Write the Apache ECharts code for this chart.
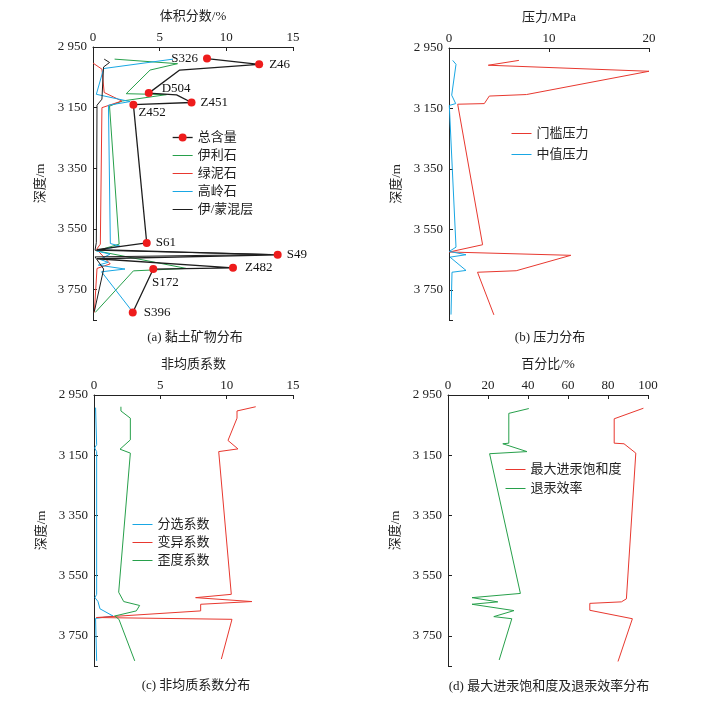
<!DOCTYPE html>
<html>
<head>
<meta charset="utf-8">
<script src="https://cdn.jsdelivr.net/npm/echarts@6/dist/echarts.min.js"></script>
<style>
html,body{margin:0;padding:0;background:#fff;}
#chart{width:716px;height:702px;}
</style>
</head>
<body>
<div id="chart"></div>
<script>
// ---------- data ----------
const depthTicks = [2950, 3150, 3350, 3550, 3750];

// (a) clay minerals, volume fraction %
const totalDepth = [2988, 3007, 3026, 3102, 3108, 3133, 3140, 3596, 3618, 3635, 3648, 3678, 3682, 3825];
const totalValue = [8.55, 12.46, 6.5, 4.18, 6.27, 7.39, 3.03, 4.03, 0.3, 13.85, 0.3, 10.5, 4.52, 2.98];
const totalName  = ['S326', 'Z46', '', 'D504', '', 'Z451', 'Z452', 'S61', '', 'S49', '', 'Z482', 'S172', 'S396'];

const illiteDepth = [2990, 3005, 3026, 3104, 3107, 3128, 3145, 3600, 3622, 3680, 3688, 3825];
const illiteValue = [1.62, 6.34, 4.28, 2.49, 5.52, 2.2, 1.24, 1.96, 0.27, 7.0, 3.03, 0.17];

const chloriteDepth = [3003, 3023, 3100, 3128, 3150, 3600, 3617, 3665, 3680, 3825];
const chloriteValue = [0.0, 0.67, 0.84, 2.16, 0.67, 0.55, 0.27, 1.29, 0.3, 0.1];

const kaoliniteDepth = [2990, 3021, 3106, 3130, 3142, 3598, 3606, 3622, 3633, 3650, 3660, 3669, 3682, 3691, 3825];
const kaoliniteValue = [6.0, 0.8, 0.25, 2.78, 1.16, 1.3, 2.0, 0.27, 1.27, 0.52, 1.14, 0.4, 2.4, 0.64, 3.0];

const mixedDepth = [2990, 3001, 3016, 3122, 3142, 3595, 3620, 3634, 3642, 3682, 3822];
const mixedValue = [0.84, 1.24, 0.79, 0.67, 0.3, 0.25, 0.15, 13.3, 0.15, 0.8, 0.1];

// (b) pressure, MPa
const thresholdDepth = [2991, 3007, 3027, 3104, 3109, 3134, 3136, 3601, 3625, 3636, 3687, 3692, 3833];
const thresholdValue = [6.99, 3.93, 20.0, 7.75, 4.03, 3.53, 0.87, 3.36, 0.03, 12.18, 6.72, 2.85, 4.49];
const medianDepth = [2991, 3004, 3106, 3134, 3140, 3609, 3623, 3634, 3642, 3686, 3692, 3832];
const medianValue = [0.37, 0.7, 0.27, 0.67, 0.03, 0.7, 0.03, 1.7, 0.1, 1.7, 0.3, 0.2];

// (c) heterogeneity coefficients
const sortingDepth = [2992, 3115, 3126, 3138, 3612, 3623, 3636, 3660, 3684, 3692, 3833];
const sortingValue = [0.12, 0.2, 0.05, 0.2, 0.2, 0.08, 0.3, 0.45, 1.43, 0.12, 0.2];
const variationDepth = [2989, 3003, 3027, 3101, 3129, 3138, 3612, 3623, 3636, 3645, 3667, 3689, 3695, 3827];
const variationValue = [12.19, 10.78, 10.78, 10.1, 10.85, 9.4, 10.35, 7.66, 11.9, 8.04, 8.04, 0.18, 10.4, 9.6];
const skewDepth = [2989, 3003, 3027, 3099, 3130, 3143, 3605, 3636, 3649, 3667, 3684, 3695, 3833];
const skewValue = [2.03, 2.03, 2.74, 2.74, 1.96, 2.74, 1.86, 2.24, 3.44, 3.19, 1.56, 1.88, 3.07];

// (d) max mercury saturation & withdrawal efficiency, %
const maxSatDepth = [2994, 3029, 3110, 3112, 3143, 3627, 3637, 3642, 3665, 3693, 3835];
const maxSatValue = [97.7, 83.1, 83.1, 88, 93.9, 89.2, 86.7, 70.9, 70.9, 92.2, 85];
const effDepth = [2995, 3011, 3110, 3112, 3138, 3145, 3609, 3623, 3637, 3645, 3666, 3686, 3693, 3830];
const effValue = [40.4, 30.4, 30.4, 27.4, 39.5, 20.8, 36.2, 12, 24.9, 12, 33, 22.9, 31.9, 25.6];

// ---------- style ----------
const FONT = "'Liberation Serif', 'Noto Sans CJK SC', serif";
const GREEN = '#27a04b', RED = '#e8382f', BLUE = '#19a7e4', BLACK = '#1e1e1e';
const zip = (v, d) => v.map((x, i) => [x, d[i]]);
const fmtDepth = v => String(v).replace(/\B(?=(\d{3})+(?!\d))/g, ' ');

const labelCfg = {
  S326: {position: 'left', distance: 5},
  Z46: {position: 'right', distance: 6},
  D504: {position: 'right', distance: 9, offset: [0, -5]},
  Z451: {position: 'right', distance: 5},
  Z452: {position: 'right', distance: 1, offset: [0, 8]},
  S61: {position: 'right', distance: 5},
  S49: {position: 'right', distance: 5},
  Z482: {position: 'right', distance: 8},
  S172: {position: 'bottom', distance: 3, offset: [12, 0]},
  S396: {position: 'right', distance: 7}
};

const totalData = totalValue.map((v, i) => {
  const n = totalName[i];
  if (!n) return {value: [v, totalDepth[i]], symbol: 'none'};
  return {value: [v, totalDepth[i]], name: n,
    label: Object.assign({show: true, formatter: n, color: '#111', fontFamily: FONT, fontSize: 13}, labelCfg[n])};
});

const grids = [
  {left: 93, top: 47, width: 200, height: 273},
  {left: 449, top: 48, width: 200, height: 272},
  {left: 94, top: 395, width: 199, height: 271},
  {left: 448, top: 395, width: 200, height: 271}
];
const xSpecs = [
  {name: '体积分数/%', max: 15, interval: 5},
  {name: '压力/MPa', max: 20, interval: 10},
  {name: '非均质系数', max: 15, interval: 5},
  {name: '百分比/%', max: 100, interval: 20}
];

const axisLine = {show: true, lineStyle: {color: '#222', width: 1}};
const xAxis = xSpecs.map((s, i) => ({
  type: 'value', gridIndex: i, position: 'top', min: 0, max: s.max, interval: s.interval,
  name: s.name, nameLocation: 'middle', nameGap: 24,
  nameTextStyle: {fontFamily: FONT, fontSize: 13, color: '#222'},
  axisLine: axisLine, axisTick: {show: true, inside: true, length: 4, lineStyle: {color: '#222'}},
  axisLabel: {fontFamily: FONT, fontSize: 13, color: '#222', margin: 3},
  splitLine: {show: false}
}));
const yAxis = grids.map((g, i) => ({
  type: 'value', gridIndex: i, inverse: true, min: 2950, max: 3850,
  name: '深度/m', nameLocation: 'middle', nameGap: 46,
  nameTextStyle: {fontFamily: FONT, fontSize: 13, color: '#222'},
  axisLine: axisLine,
  axisTick: {show: true, inside: true, length: 4, lineStyle: {color: '#222'}, customValues: depthTicks.concat([3850])},
  axisLabel: {fontFamily: FONT, fontSize: 13, color: '#222', margin: 6, customValues: depthTicks, formatter: fmtDepth},
  splitLine: {show: false}
}));

function line(name, data, color, idx, width) {
  return {name, type: 'line', xAxisIndex: idx, yAxisIndex: idx, data, symbol: 'none',
    lineStyle: {color, width: width || 1}, itemStyle: {color}, z: 2};
}

const series = [
  line('伊利石', zip(illiteValue, illiteDepth), GREEN, 0),
  line('绿泥石', zip(chloriteValue, chloriteDepth), RED, 0),
  line('高岭石', zip(kaoliniteValue, kaoliniteDepth), BLUE, 0),
  line('伊/蒙混层', zip(mixedValue, mixedDepth), BLACK, 0),
  {name: '总含量', type: 'line', xAxisIndex: 0, yAxisIndex: 0, data: totalData,
   symbol: 'circle', symbolSize: 8, lineStyle: {color: BLACK, width: 1.3},
   itemStyle: {color: '#ee1c1c'}, z: 5},
  line('门槛压力', zip(thresholdValue, thresholdDepth), RED, 1),
  line('中值压力', zip(medianValue, medianDepth), BLUE, 1),
  line('分选系数', zip(sortingValue, sortingDepth), BLUE, 2),
  line('变异系数', zip(variationValue, variationDepth), RED, 2),
  line('歪度系数', zip(skewValue, skewDepth), GREEN, 2),
  line('最大进汞饱和度', zip(maxSatValue, maxSatDepth), RED, 3),
  line('退汞效率', zip(effValue, effDepth), GREEN, 3)
];

const lineOnly = (name, color) => ({name, itemStyle: {color: 'rgba(0,0,0,0)', borderWidth: 0, opacity: 0}, lineStyle: {color, width: 1}});
const legendBase = {orient: 'vertical', itemWidth: 20, itemHeight: 10, itemGap: 5,
  textStyle: {fontFamily: FONT, fontSize: 13, color: '#222'}, selectedMode: false, padding: 0};
const legend = [
  Object.assign({}, legendBase, {left: 172, top: 131, data: [
    {name: '总含量', lineStyle: {color: BLACK, width: 1.3}, itemStyle: {color: '#ee1c1c'}},
    lineOnly('伊利石', GREEN), lineOnly('绿泥石', RED), lineOnly('高岭石', BLUE), lineOnly('伊/蒙混层', BLACK)]}),
  Object.assign({}, legendBase, {left: 511, top: 127, itemGap: 8, data: [lineOnly('门槛压力', RED), lineOnly('中值压力', BLUE)]}),
  Object.assign({}, legendBase, {left: 132, top: 518, data: [lineOnly('分选系数', BLUE), lineOnly('变异系数', RED), lineOnly('歪度系数', GREEN)]}),
  Object.assign({}, legendBase, {left: 505, top: 463, itemGap: 6, data: [lineOnly('最大进汞饱和度', RED), lineOnly('退汞效率', GREEN)]})
];

const captions = [
  ['(a) 黏土矿物分布', 195, 338],
  ['(b) 压力分布', 550, 338],
  ['(c) 非均质系数分布', 196, 686],
  ['(d) 最大进汞饱和度及退汞效率分布', 549, 687]
];
const graphic = captions.map(c => ({type: 'text', x: c[1], y: c[2],
  style: {text: c[0], fontFamily: FONT, fontSize: 13, fill: '#222', textAlign: 'center', textVerticalAlign: 'middle'}}));

const chart = echarts.init(document.getElementById('chart'));
chart.setOption({animation: false, backgroundColor: '#fff', grid: grids, xAxis, yAxis, series, legend, graphic});
</script>
</body>
</html>
